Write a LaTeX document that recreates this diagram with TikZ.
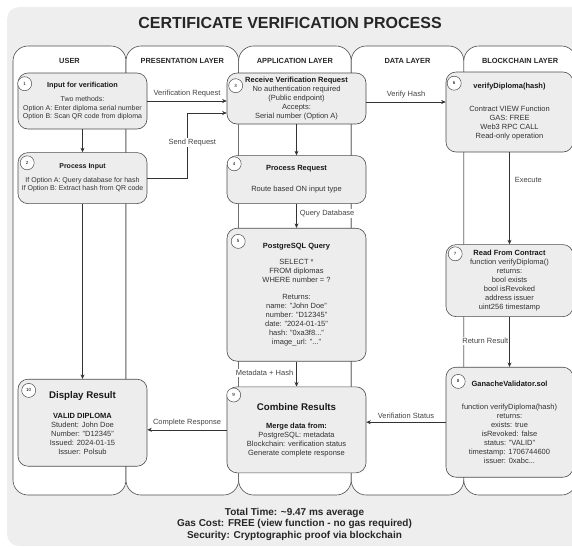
\documentclass[tikz,border=0pt]{standalone}
\usepackage{fontspec}
\setmainfont{Liberation Sans}
\usepackage{xcolor}
\usepackage{tikz}
\usetikzlibrary{arrows.meta, positioning}

\definecolor{bggray}{HTML}{EEEEEE}
\definecolor{boxgray}{HTML}{EDEDED}
\definecolor{linegray}{HTML}{4D4D4D}
\definecolor{txtgray}{HTML}{333333}
\definecolor{lblgray}{HTML}{444444}

\newcommand{\bodyfont}{\fontsize{7.5}{9}\selectfont}
\newcommand{\smallbody}{\fontsize{7}{8.5}\selectfont}
\newcommand{\boxtitle}[1]{{\bfseries\color{black!90}#1}}
\newcommand{\bigtitle}[1]{{\fontsize{9.7}{11}\selectfont\bfseries\color{black!90}#1}}

\begin{document}
\begin{tikzpicture}[
  x=1pt, y=-1pt,
  % --- Lanes ---
  lane/.style={
    rectangle, rounded corners=15pt, draw=linegray, fill=white,
    line width=0.6pt, outer sep=0pt,
    minimum width=112.6pt, minimum height=449pt
  },
  lanehead/.style={font=\fontsize{7.4}{9}\selectfont\bfseries, text=black!85},
  % --- Box styles ---
  basebox/.style={
    rectangle, rounded corners=10pt, draw=linegray, fill=boxgray,
    line width=0.6pt, align=center, inner sep=2pt,
    font=\bodyfont, text=txtgray
  },
  userbox/.style={basebox, minimum width=129pt, font=\smallbody},
  appbox/.style={basebox, minimum width=139pt},
  chainbox/.style={basebox, minimum width=127pt},
  numcirc/.style={circle, draw=linegray, fill=white, line width=0.5pt,
    minimum size=14pt, inner sep=0pt, font=\fontsize{4.5}{5}\selectfont},
  % --- Arrows ---
  flow/.style={-{Stealth[length=4.5pt, width=4pt]}, draw=black!80, line width=0.6pt},
  % --- Edge labels ---
  dlbl/.style={font=\bodyfont, text=lblgray, fill=white, inner sep=1pt},
]

\useasboundingbox (0,0) rectangle (572,547);
\clip (0,0) rectangle (572,547);
\fill[bggray, rounded corners=12pt] (7,7) rectangle (600,546);

\node[font=\fontsize{16}{18}\selectfont\bfseries, text=black!85] (title) at (290,23)
  {CERTIFICATE VERIFICATION PROCESS};

% ===================== LANES =====================
\node[lane, minimum width=113pt] (userlane) at (69.5,270.5) {};
\node[lane, right=0pt of userlane] (preslane) {};
\node[lane, right=0pt of preslane] (applane) {};
\node[lane, right=0pt of applane] (datalane) {};
\node[lane, right=0pt of datalane] (chainlane) {};

\node[lanehead] (userhd)  at ([yshift=-15pt]userlane.north)  {USER};
\node[lanehead] (preshd)  at ([yshift=-15pt]preslane.north)  {PRESENTATION LAYER};
\node[lanehead] (apphd)   at ([yshift=-15pt]applane.north)   {APPLICATION LAYER};
\node[lanehead] (datahd)  at ([yshift=-15pt]datalane.north)  {DATA LAYER};
\node[lanehead] (chainhd) at ([yshift=-15pt]chainlane.north) {BLOCKCHAIN LAYER};

% ===================== USER =====================
\node[userbox, minimum height=56pt] (inp) at (82.5,101)
  {\boxtitle{\fontsize{7.3}{8.5}\selectfont Input for verification}\\[6pt]
   Two methods:\\ Option A: Enter diploma serial number\\
   Option B: Scan QR code from diploma};

\node[userbox, minimum height=51pt, below=23pt of inp] (proc)
  {\boxtitle{Process Input}\\[5pt]
   If Option A: Query database for hash\\ If Option B: Extract hash from QR code};

\node[userbox, minimum height=87pt, font=\bodyfont, below=175pt of proc] (disp)
  {\bigtitle{Display Result}\\[11pt]
   \boxtitle{VALID DIPLOMA}\\ Student: John Doe\\ Number: "D12345"\\
   Issued: 2024-01-15\\ Issuer: Polsub};

% ===================== APPLICATION / DATA =====================
\node[appbox, minimum height=51pt] (recv) at (296.5,98.5)
  {\boxtitle{Receive Verification Request}\\ No authentication required\\
   (Public endpoint)\\ Accepts:\\ Serial number (Option A)};

\node[appbox, minimum height=48pt, below=31pt of recv] (preq)
  {\boxtitle{Process Request}\\[12pt] Route based ON input type};

\node[appbox, minimum height=133pt, below=24pt of preq] (pgq)
  {\boxtitle{PostgreSQL Query}\\[7pt] SELECT *\\ FROM diplomas\\ WHERE number = ?\\[8pt]
   Returns:\\ name: "John Doe"\\ number: "D12345"\\ date: "2024-01-15"\\
   hash: "0xa3f8..."\\ image\_url: "..."};

\node[appbox, minimum height=86pt, below=25pt of pgq] (comb)
  {\bigtitle{Combine Results}\\[9pt] \boxtitle{Merge data from:}\\
   PostgreSQL: metadata\\ Blockchain: verification status\\ Generate complete response};

% ===================== BLOCKCHAIN =====================
\node[chainbox, minimum height=80pt] (vdip) at (509.5,112)
  {\boxtitle{verifyDiploma(hash)}\\[14pt] Contract VIEW Function\\ GAS: FREE\\
   Web3 RPC CALL\\ Read-only operation};

\node[chainbox, minimum height=72pt, below=92pt of vdip] (rdc)
  {\boxtitle{Read From Contract}\\ function verifyDiploma()\\ returns:\\ bool exists\\
   bool isRevoked\\ address issuer\\ uint256 timestamp};

\node[chainbox, minimum height=110pt, below=50pt of rdc] (gan)
  {\boxtitle{GanacheValidator.sol}\\[14pt] function verifyDiploma(hash)\\ returns:\\
   exists: true\\ isRevoked: false\\ status: "VALID"\\ timestamp: 1706744600\\
   issuer: 0xabc...};

% step numbers
\foreach \bx/\num/\dx/\dy in {inp/1/7/11, proc/2/9.5/10.5, recv/3/9/13,
    preq/4/7.5/8.5, pgq/5/11.5/13.5, vdip/6/8.5/11.5, rdc/7/9.5/9.5,
    gan/8/12.5/14.5, comb/9/7/8.5, disp/10/11/11.5}
  \node[numcirc] (num\num) at ([xshift=\dx pt, yshift=-\dy pt]\bx.north west) {\num};

% ================ FLOW ARROWS ================
\draw[flow] (inp) -- (proc);
\draw[flow] (proc) -- (disp);

\draw[flow] (inp.east) --
  node[dlbl, above=3pt] {Verification Request}
  (inp.east -| recv.west);

\draw[flow] (proc.east) -- ++(40,0)
  |- node[dlbl, pos=0.27, xshift=5pt] {Send Request}
  ([yshift=-14.5pt]recv.west);

\draw[flow] (recv) -- (preq);
\draw[flow] (preq) -- node[dlbl, pos=0.4, right=2pt] {Query Database} (pgq);
\draw[flow] (pgq) -- node[dlbl, pos=0.45, left=2pt] {Metadata + Hash} (comb);

\coordinate (vhash) at ([yshift=-3.5pt]recv.east);
\draw[flow] (vhash) --
  node[dlbl, above=3pt] {Verify Hash}
  (vhash -| vdip.west);

\draw[flow] (vdip) -- node[dlbl, pos=0.3, right=4pt] {Execute} (rdc);
\draw[flow] (rdc) -- node[dlbl, pos=0.48, left=0pt] {Return Result} (gan);

\draw[flow] (gan.west) --
  node[dlbl, above=2pt] {Verifiation Status}
  (gan.west -| comb.east);

\draw[flow] (comb.west) --
  node[dlbl, above=2pt] {Complete Response}
  (comb.west -| disp.east);

% ================ SUMMARY ================
\node[font=\fontsize{10}{11.5}\selectfont\bfseries, align=center, text=black!85]
  (summary) at (294.5,524)
  {Total Time: \textasciitilde9.47 ms average\\
   Gas Cost: FREE (view function - no gas required)\\
   Security: Cryptographic proof via blockchain};

\end{tikzpicture}
\end{document}
